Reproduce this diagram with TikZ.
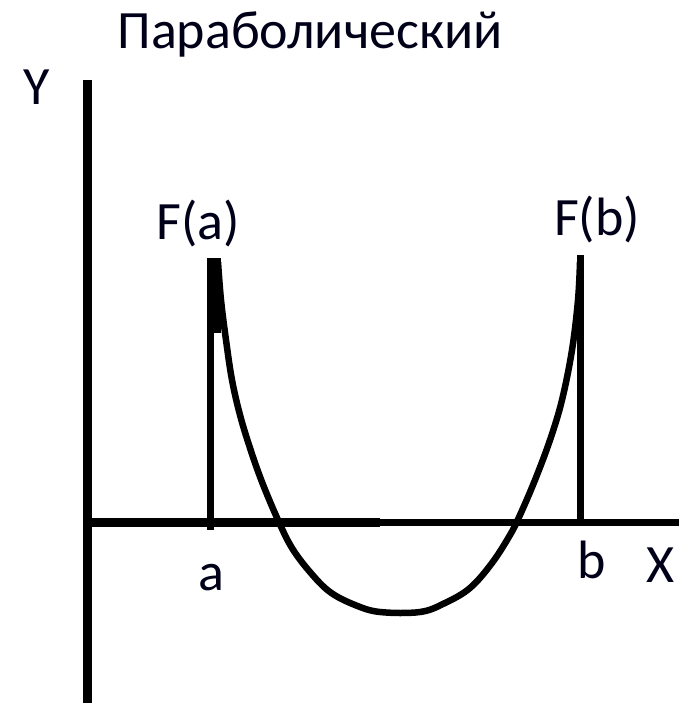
\documentclass[tikz,border=0pt]{standalone}
\usepackage{fontspec}
\setmainfont{Carlito}
\begin{document}
\begin{tikzpicture}[x=1pt,y=-1pt,
  lbl/.style={anchor=base, inner sep=0pt, text=black!90!blue, font=\fontsize{54}{64}\selectfont},
  axis/.style={line width=9pt, black},
  vline/.style={line width=7pt, black},
  curve/.style={line width=6.5pt, black, line join=round}]
\useasboundingbox (0,0) rectangle (679,703);
\fill[white] (0,0) rectangle (679,703);
% labels
\node[lbl] (title) at (310,49) {Параболический};
\node[lbl] (ylab) at (37,105) {Y};
\node[lbl] (fa) at (198,240) {F(a)};
\node[lbl] (fb) at (597,235) {F(b)};
\node[lbl] (alab) at (211,590) {a};
\node[lbl] (blab) at (592,578) {b};
\node[lbl] (xlab) at (661,582) {X};
% coordinates
\coordinate (ytop) at (87,80);
\coordinate (ybot) at (87,703);
\coordinate (o) at (84,522);
\coordinate (xmid) at (380,522);
\coordinate (xend) at (679,522);
\coordinate (atop) at (210,258);
\coordinate (abot) at (210,530);
\coordinate (btop) at (580,255);
\coordinate (bbot) at (580,522);
% axes
\draw[axis] (ytop) -- (ybot);
\draw[axis] (o) -- (xmid);
\draw[line width=7pt] (xmid) -- (xend);
% verticals
\draw[vline] (atop) -- (abot);
\draw[vline] (btop) -- (bbot);
\fill (207,258) rectangle (221,333);
% curve
\draw[curve] plot[smooth, tension=0.6] coordinates {(218,262) (221,300) (226,340) (232,380) (240,415) (250,448) (262,482) (278,520) (292,548) (310,572) (330,592) (355,605) (380,612) (420,612) (445,603) (470,588) (492,563) (510,535) (520,515) (535,480) (550,440) (562,400) (572,350) (578,300) (580,262)};
\end{tikzpicture}
\end{document}
